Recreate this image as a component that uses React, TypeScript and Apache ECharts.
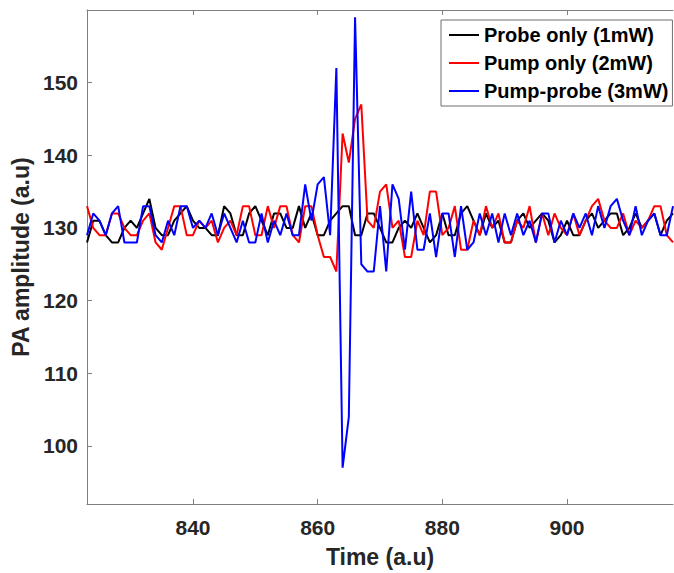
import React, { useEffect, useRef } from "react";
import * as echarts from "echarts";

const startTime = 823;
const probeOnly = [
  128, 131, 131, 129, 128, 128, 130, 131, 130, 132, 134, 130, 129, 129, 131, 132, 133, 131, 130, 130,
  129, 129, 133, 132, 129, 129, 132, 133, 131, 129, 132, 132, 130, 130, 133, 130, 132, 129, 129, 131,
  132, 133, 133, 129, 129, 132, 132, 130, 128, 128, 130, 131, 130, 132, 130, 128, 129, 132, 129, 129,
  132, 133, 131, 129, 132, 130, 131, 128, 128, 131, 132, 130, 131, 132, 131, 128, 129, 131, 129, 129,
  131, 132, 130, 131, 132, 132, 129, 130, 132, 130, 131, 132, 129, 131, 132,
];
const pumpOnly = [
  133, 130, 129, 129, 132, 132, 130, 129, 129, 131, 132, 128, 127, 130, 133, 133, 129, 129, 131, 130,
  131, 128, 130, 131, 129, 133, 133, 129, 129, 133, 130, 133, 133, 129, 128, 133, 133, 129, 126, 126,
  124, 143, 139, 145, 147, 131, 130, 135, 136, 130, 131, 126, 126, 131, 129, 135, 135, 129, 130, 133,
  127, 127, 131, 129, 133, 130, 132, 128, 128, 131, 130, 133, 128, 132, 129, 132, 130, 129, 132, 129,
  131, 133, 134, 131, 130, 130, 132, 129, 131, 130, 131, 133, 133, 129, 128,
];
const pumpProbe = [
  129, 132, 131, 129, 132, 133, 128, 128, 128, 133, 133, 129, 128, 131, 129, 133, 133, 130, 131, 130,
  132, 129, 132, 130, 128, 131, 128, 128, 132, 128, 131, 129, 132, 129, 129, 136, 131, 136, 137, 129,
  152, 97, 104, 159, 125, 124, 124, 133, 124, 136, 134, 127, 135, 127, 127, 132, 126, 132, 132, 126,
  133, 127, 128, 132, 129, 132, 128, 132, 129, 132, 129, 131, 128, 132, 132, 128, 131, 129, 132, 130,
  132, 129, 133, 130, 133, 134, 131, 129, 133, 129, 131, 132, 129, 129, 133,
];
const seriesNames = ["Probe only (1mW)", "Pump only (2mW)", "Pump-probe (3mW)"];
const seriesColors = ["#000000", "#ff0000", "#0000ff"];
const xTicks = [840, 860, 880, 900];
const yTicks = [100, 110, 120, 130, 140, 150];

const FONT = "'Liberation Sans', Arial, sans-serif";

export default function App() {
  const ref = useRef<HTMLDivElement>(null);
  useEffect(() => {
    if (!ref.current) return;
    const chart = echarts.init(ref.current, null, { renderer: "svg" });
    const toPairs = (arr: number[]) => arr.map((v, i) => [startTime + i, v]);
    const all = [probeOnly, pumpOnly, pumpProbe];
    const axisLine = { show: true, lineStyle: { color: "#7f7f7f", width: 1 } };
    chart.setOption({
      animation: false,
      backgroundColor: "#ffffff",
      grid: { left: 87, top: 10, right: 1, bottom: 68 },
      legend: {
        orient: "vertical",
        left: 441,
        top: 20,
        itemWidth: 30,
        itemHeight: 22,
        itemGap: 6,
        padding: [4, 4, 4, 7],
        borderColor: "#6f6f6f",
        borderWidth: 1,
        backgroundColor: "#ffffff",
        itemStyle: { opacity: 0 },
        lineStyle: { width: 2 },
        textStyle: { fontSize: 20, fontWeight: "bold", color: "#000", fontFamily: FONT, lineHeight: 22 },
        data: seriesNames,
      },
      xAxis: [
        {
          type: "value",
          min: 823,
          max: 917,
          position: "bottom",
          axisLine,
          axisTick: { show: true, inside: true, length: 5, customValues: xTicks, lineStyle: { color: "#7f7f7f" } },
          axisLabel: {
            customValues: xTicks,
            fontSize: 21,
            fontWeight: "bold",
            color: "#262626",
            fontFamily: FONT,
            margin: 13,
          },
          splitLine: { show: false },
          name: "Time (a.u)",
          nameLocation: "middle",
          nameGap: 41,
          nameTextStyle: { fontSize: 23, fontWeight: "bold", color: "#262626", fontFamily: FONT },
        },
        {
          type: "value",
          min: 823,
          max: 917,
          position: "top",
          axisLine,
          axisTick: { show: true, inside: true, length: 5, customValues: xTicks, lineStyle: { color: "#7f7f7f" } },
          axisLabel: { show: false },
          splitLine: { show: false },
        },
      ],
      yAxis: [
        {
          type: "value",
          min: 92,
          max: 160,
          axisLine,
          axisTick: { show: true, inside: true, length: 5, customValues: yTicks, lineStyle: { color: "#7f7f7f" } },
          axisLabel: {
            customValues: yTicks,
            fontSize: 21,
            fontWeight: "bold",
            color: "#262626",
            fontFamily: FONT,
            margin: 9,
          },
          splitLine: { show: false },
          name: "PA amplitude (a.u)",
          nameLocation: "middle",
          nameGap: 52,
          nameRotate: 90,
          nameTextStyle: { fontSize: 23, fontWeight: "bold", color: "#262626", fontFamily: FONT },
        },
      ],
      series: all.map((arr, i) => ({
        name: seriesNames[i],
        type: "line",
        data: toPairs(arr),
        symbol: "none",
        showSymbol: false,
        color: seriesColors[i],
        lineStyle: { color: seriesColors[i], width: 2 },
        z: 2 + i,
      })),
    });
    return () => chart.dispose();
  }, []);
  return (
    <div
      ref={ref}
      style={{ position: "fixed", left: 0, top: 0, width: 674, height: 573, background: "#fff" }}
    />
  );
}
